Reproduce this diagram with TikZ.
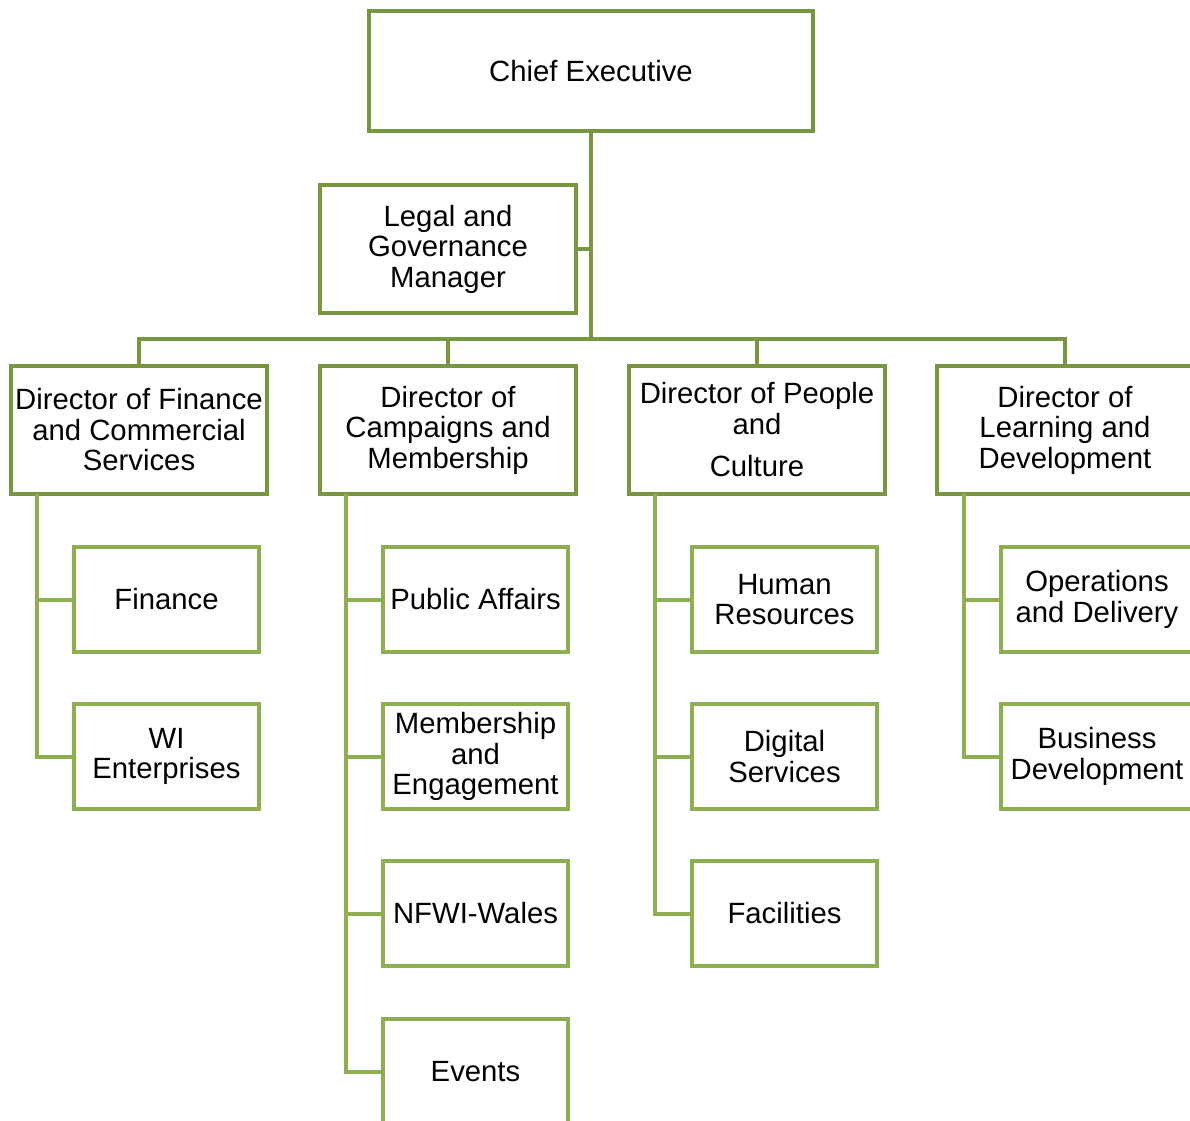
\documentclass[tikz,border=0pt]{standalone}
\usepackage{fontspec}
\setmainfont{Liberation Sans}
\definecolor{darkol}{HTML}{78953F}
\definecolor{lightol}{HTML}{8DAF52}
\begin{document}
\begin{tikzpicture}[x=1pt,y=-1pt,
  box/.style={draw=darkol,line width=3.5pt,fill=white,rectangle,inner sep=0pt,align=center,
     font=\fontsize{29.3}{30.5}\selectfont},
  dirbox/.style={box,minimum width=256pt,minimum height=128pt},
  subbox/.style={box,draw=lightol,minimum width=185pt,minimum height=105pt},
  conn/.style={draw=darkol,line width=4pt},
  subconn/.style={draw=lightol,line width=4pt}]
\useasboundingbox (0,0) rectangle (1190,1120);
\clip (0,0) rectangle (1190,1120);
\coordinate (bar) at (591,339);
\coordinate (s1) at (37,494);
\coordinate (s2) at (346,494);
\coordinate (s3) at (655,494);
\coordinate (s4) at (964,494);

\node[box,minimum width=444pt,minimum height=120pt] (ce) at (591,71) {Chief Executive};
\node[box,minimum width=256pt,minimum height=128pt] (lg) at (448,249) {Legal and\\Governance\\Manager};

\node[dirbox] (d1) at (139,430) {Director of Finance\\and Commercial\\Services};
\node[dirbox] (d2) at (448,430) {Director of\\Campaigns and\\Membership};
\node[dirbox] (d3) at (757,430) {Director of People\\and\\[12pt]Culture};
\node[dirbox] (d4) at (1065,430) {Director of\\Learning and\\Development};

\node[subbox] (f1) at (166.5,599.5) {Finance};
\node[subbox] (f2) at (166.5,756.5) {WI\\Enterprises};
\node[subbox] (c1) at (475.5,599.5) {Public Affairs};
\node[subbox] (c2) at (475.5,756.5) {Membership\\and\\Engagement};
\node[subbox] (c3) at (475.5,913.5) {NFWI-Wales};
\node[subbox] (c4) at (475.5,1071.5) {Events};
\node[subbox] (p1) at (784.5,599.5) {Human\\Resources};
\node[subbox] (p2) at (784.5,756.5) {Digital\\Services};
\node[subbox] (p3) at (784.5,913.5) {Facilities};
\node[subbox,minimum width=192pt] (l1) at (1097,599.5) {Operations\\and Delivery};
\node[subbox,minimum width=192pt] (l2) at (1097,756.5) {Business\\Development};

\draw[conn] (ce.south) -- (bar);
\draw[conn] (lg.east) -- (lg.east -| ce.south);
\draw[conn] (d1.north) |- (bar);
\draw[conn] (d2.north) |- (bar);
\draw[conn] (d3.north) |- (bar);
\draw[conn] (d4.north) |- (bar);

\draw[subconn] (s1) |- (f1.west);
\draw[subconn] (s1) |- (f2.west);
\draw[subconn] (s2) |- (c1.west);
\draw[subconn] (s2) |- (c2.west);
\draw[subconn] (s2) |- (c3.west);
\draw[subconn] (s2) |- (c4.west);
\draw[subconn] (s3) |- (p1.west);
\draw[subconn] (s3) |- (p2.west);
\draw[subconn] (s3) |- (p3.west);
\draw[subconn] (s4) |- (l1.west);
\draw[subconn] (s4) |- (l2.west);
\end{tikzpicture}
\end{document}
